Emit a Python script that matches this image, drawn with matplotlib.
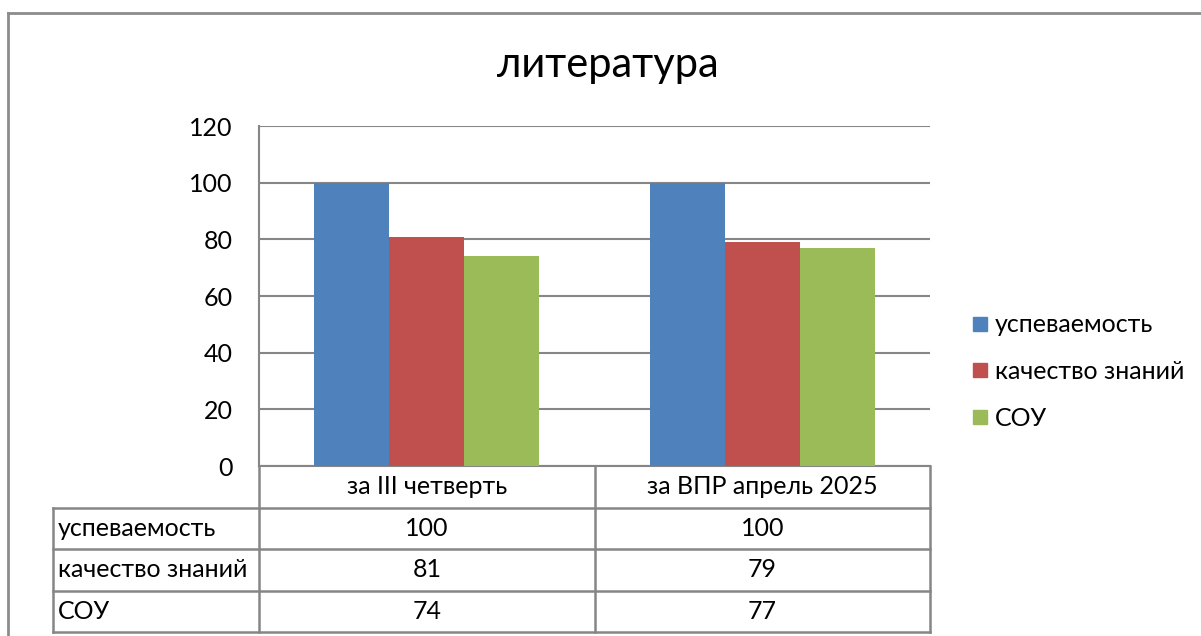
import matplotlib.pyplot as plt
from matplotlib.lines import Line2D

plt.rcParams['font.family'] = ['Lato', 'DejaVu Sans']

# data
categories = ["за III четверть", "за ВПР апрель 2025"]
series_names = ["успеваемость", "качество знаний", "СОУ"]
uspevaemost = [100, 100]
kachestvo = [81, 79]
sou = [74, 77]
series_values = [uspevaemost, kachestvo, sou]
colors = ["#4F81BD", "#C0504D", "#9BBB59"]
yticks = [0, 20, 40, 60, 80, 100, 120]

W, H = 1201, 636
grid_col = "#868686"


def fx(px):
    return px / W


def fy(py):
    return 1 - py / H


fig = plt.figure(figsize=(W / 100, H / 100), dpi=100)

# plot area in pixels
left, right, top, bottom = 259, 930, 126, 466
ax = fig.add_axes([fx(left), fy(bottom), fx(right - left), (bottom - top) / H])

n = len(categories)
bw = 0.2235
for i, (name, vals, c) in enumerate(zip(series_names, series_values, colors)):
    xs = [k + (i - 1) * bw for k in range(n)]
    ax.bar(xs, vals, width=bw, color=c, label=name, zorder=3)

ax.set_xlim(-0.5, n - 0.5)
ax.set_ylim(0, 120)
ax.set_yticks(yticks)
ax.set_yticklabels([str(v) for v in yticks], fontsize=18)
ax.tick_params(axis="y", length=0, pad=19)
ax.set_xticks([])
ax.grid(axis="y", color=grid_col, linewidth=1.5, zorder=0)
for s in ["top", "right"]:
    ax.spines[s].set_visible(False)
for s in ["left", "bottom"]:
    ax.spines[s].set_color(grid_col)
    ax.spines[s].set_linewidth(1.5)

# data table under the chart
tleft, tbottom = 53, 632
row_h = (tbottom - bottom) / (len(series_names) + 1)
tab = fig.add_axes([fx(tleft), fy(tbottom), fx(right - tleft), (tbottom - bottom) / H])
tab.set_xlim(tleft, right)
tab.set_ylim(tbottom, bottom)
tab.axis("off")

col_w = (right - left) / n
col_edges = [left + k * col_w for k in range(n + 1)]
lk = dict(color=grid_col, linewidth=1.8, solid_capstyle="projecting", clip_on=False)

for r in range(1, len(series_names) + 2):
    y = bottom + r * row_h
    tab.plot([tleft, right], [y, y], **lk)
for x in col_edges:
    tab.plot([x, x], [bottom, tbottom], **lk)
tab.plot([tleft, tleft], [bottom + row_h, tbottom], **lk)

for k, cat in enumerate(categories):
    cx = (col_edges[k] + col_edges[k + 1]) / 2
    tab.text(cx, bottom + row_h / 2, cat, ha="center", va="center", fontsize=18)
for r, (name, vals) in enumerate(zip(series_names, series_values)):
    cy = bottom + (r + 1.5) * row_h
    tab.text(tleft + 5, cy, name, ha="left", va="center", fontsize=18)
    for k, v in enumerate(vals):
        cx = (col_edges[k] + col_edges[k + 1]) / 2
        tab.text(cx, cy, str(v), ha="center", va="center", fontsize=18)

# legend
handles = [Line2D([], [], marker="s", linestyle="", color=c, markersize=10)
           for c in colors]
fig.legend(handles, series_names, loc="center left",
           bbox_to_anchor=(fx(970), fy(371.5)), frameon=False, fontsize=18,
           handlelength=0.8, handletextpad=0.2, labelspacing=0.95,
           borderpad=0, borderaxespad=0)

# title
fig.text(fx(608), fy(77), "литература", ha="center", va="baseline", fontsize=30)

# outer chart frame (cut off on right and bottom)
fig.add_artist(Line2D([fx(8), fx(8)], [fy(13), 0], color="#8C8C8C", linewidth=2))
fig.add_artist(Line2D([fx(8), 1], [fy(13), fy(13)], color="#8C8C8C", linewidth=2))

fig.savefig("out.png", dpi=100)
